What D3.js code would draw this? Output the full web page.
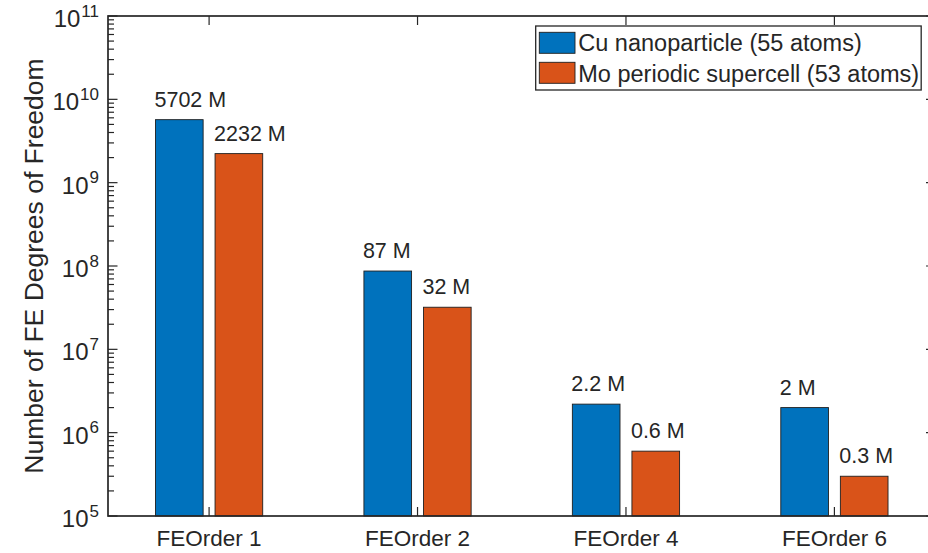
<!DOCTYPE html>
<html><head><meta charset="utf-8">
<script src="https://cdn.jsdelivr.net/npm/d3@7"></script>
<style>
body{margin:0;background:#fff}
svg{display:block}
text{font-family:"Liberation Sans",Arial,Helvetica,sans-serif;fill:#262626}
</style>
</head><body><svg id="c" width="928" height="553"></svg>
<script>
const categories = ["FEOrder 1","FEOrder 2","FEOrder 4","FEOrder 6"];
const seriesNames = ["Cu nanoparticle (55 atoms)","Mo periodic supercell (53 atoms)"];
const cuValues = [5702e6, 87e6, 2.2e6, 2e6];
const moValues = [2232e6, 32e6, 0.6e6, 0.3e6];
const cuLabels = ["5702 M","87 M","2.2 M","2 M"];
const moLabels = ["2232 M","32 M","0.6 M","0.3 M"];
const yTickExponents = [5,6,7,8,9,10,11];
const colors = ["#0072BD","#D95319"];

const axisColor = "#262626";
const m = {left:108, right:935.5, top:16, bottom:516};
const svg = d3.select("#c");
const x = d3.scaleLinear().domain([0.515,4.485]).range([m.left,m.right]);
const y = d3.scaleLog().domain([1e5,1e11]).range([m.bottom,m.top]);
const barW = x(0.2286)-x(0);
const off = 0.1429;

const series = [
  {values:cuValues, labels:cuLabels, color:colors[0], dx:-off},
  {values:moValues, labels:moLabels, color:colors[1], dx:off}
];

// bars
series.forEach(s=>{
  const g = svg.append("g");
  g.selectAll("rect").data(s.values).join("rect")
    .attr("x",(d,i)=>x(i+1+s.dx)-barW/2)
    .attr("y",d=>y(d))
    .attr("width",barW)
    .attr("height",d=>y(1e5)-y(d))
    .attr("fill",s.color)
    .attr("stroke","#1f1f1f")
    .attr("stroke-width",0.9);
  g.selectAll("text").data(s.values).join("text")
    .attr("x",(d,i)=>x(i+1+s.dx)-barW/2-1)
    .attr("y",d=>y(d)-13)
    .attr("font-size",21.5)
    .text((d,i)=>s.labels[i]);
});

// axes box
const ax = svg.append("g").attr("stroke",axisColor).attr("stroke-width",1.7).attr("fill","none");
ax.append("rect").attr("x",m.left).attr("y",m.top).attr("width",m.right-m.left).attr("height",m.bottom-m.top);

// y ticks
const majors = yTickExponents.map(e=>Math.pow(10,e));
const minors = [];
yTickExponents.slice(0,-1).forEach(e=>{for(let j=2;j<=9;j++) minors.push(j*Math.pow(10,e));});
const tk = svg.append("g").attr("stroke",axisColor).attr("stroke-width",1.2);
majors.forEach(v=>{
  tk.append("line").attr("x1",m.left).attr("x2",m.left+9.5).attr("y1",y(v)).attr("y2",y(v));
  tk.append("line").attr("x1",m.right).attr("x2",m.right-9.5).attr("y1",y(v)).attr("y2",y(v));
});
minors.forEach(v=>{
  tk.append("line").attr("x1",m.left).attr("x2",m.left+6).attr("y1",y(v)).attr("y2",y(v));
  tk.append("line").attr("x1",m.right).attr("x2",m.right-6).attr("y1",y(v)).attr("y2",y(v));
});
// x ticks
categories.forEach((c,i)=>{
  tk.append("line").attr("x1",x(i+1)).attr("x2",x(i+1)).attr("y1",m.bottom).attr("y2",m.bottom-9);
  tk.append("line").attr("x1",x(i+1)).attr("x2",x(i+1)).attr("y1",m.top).attr("y2",m.top+9);
});

// y tick labels
yTickExponents.forEach(e=>{
  const t = svg.append("text").attr("x",m.left-9).attr("y",y(Math.pow(10,e))+11)
    .attr("text-anchor","end").attr("font-size",24);
  t.append("tspan").text("10");
  t.append("tspan").attr("dx",1).attr("dy",-10.5).attr("font-size",17).text(String(e));
});

// x tick labels
svg.append("g").selectAll("text").data(categories).join("text")
  .attr("x",(d,i)=>x(i+1)).attr("y",546)
  .attr("text-anchor","middle").attr("font-size",22.5).text(d=>d);

// y axis label
svg.append("text").attr("transform",`translate(43,${(m.top+m.bottom)/2}) rotate(-90)`)
  .attr("text-anchor","middle").attr("font-size",26.5)
  .text("Number of FE Degrees of Freedom");

// legend
const lg = svg.append("g");
const box = lg.append("rect").attr("x",535.7).attr("y",26).attr("height",64)
  .attr("fill","#fff").attr("stroke",axisColor).attr("stroke-width",1.3);
let maxW = 0;
seriesNames.forEach((n,i)=>{
  lg.append("rect").attr("x",539.3).attr("y",32.3+i*30).attr("width",35.7).attr("height",21)
    .attr("fill",colors[i]).attr("stroke","#1f1f1f").attr("stroke-width",0.9);
  const t = lg.append("text").attr("x",578.3).attr("y",51+i*31).attr("font-size",23.5).text(n);
  maxW = Math.max(maxW, t.node().getComputedTextLength());
});
box.attr("width",578.3+maxW+2-535.7);
</script>
</body></html>
